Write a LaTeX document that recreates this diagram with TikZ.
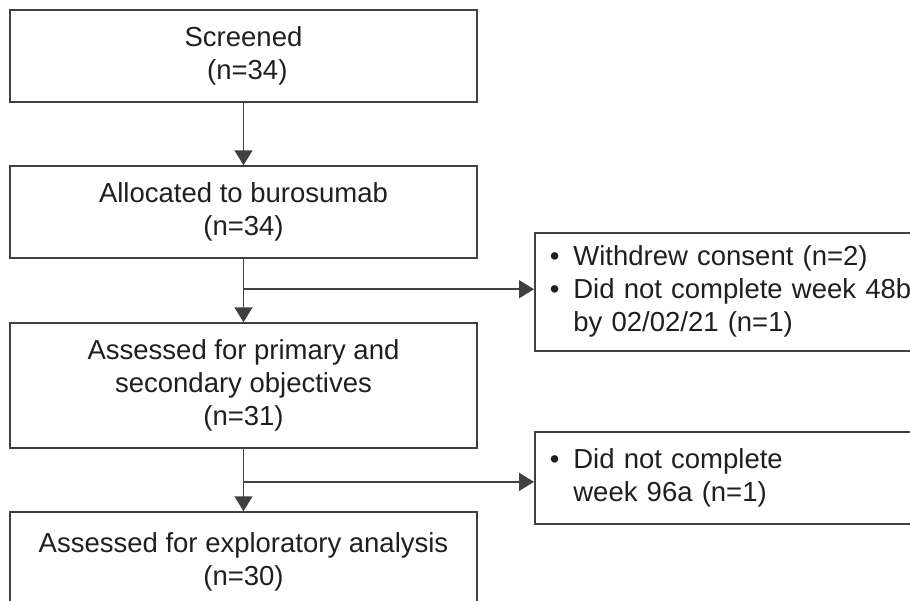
\documentclass[tikz,border=0pt]{standalone}
\usepackage{fontspec}
\setmainfont{Liberation Sans}
\usetikzlibrary{arrows.meta,calc}

\tikzset{
  flowbox/.style={draw=black!75,line width=0.75pt,text=black!88,align=center,
    minimum width=233.5pt,inner sep=0pt,font=\fontsize{13.75}{16.5}\selectfont},
  sidebox/.style={draw=black!75,line width=0.75pt,text=black!88,anchor=west,
    text width=199pt,align=left,inner xsep=7.5pt,inner ysep=0pt,
    font=\fontsize{13.75}{16.5}\selectfont},
  flowarrow/.style={draw=black!75,line width=0.75pt,-{Triangle[width=9pt,length=7.5pt]}},
  flowline/.style={draw=black!75,line width=0.75pt}
}
\newcommand{\bulletlist}[1]{\begin{tabular}{@{}l@{\hspace{7pt}}l@{}}#1\end{tabular}}

\begin{document}
\begin{tikzpicture}[x=0.5pt,y=-0.5pt]
      \useasboundingbox (0,0) rectangle (910,600);
      \clip (0,0) rectangle (910,600);
      % main column
      \node[flowbox,minimum height=46pt] (screened) at (243.5,56) {Screened\\ \ (n=34)};
      \node[flowbox,minimum height=46pt] (allocated) at (243.5,212) {Allocated to burosumab\\(n=34)};
      \node[flowbox,minimum height=62.5pt] (primary) at (243.5,385.5) {Assessed for primary and\\secondary objectives\\(n=31)};
      \node[flowbox,minimum height=49.5pt] (explore) at (243.5,561.5) {Assessed for exploratory analysis\\(n=30)};
      % exclusions
      \node[sidebox,minimum height=59pt] (withdrawn) at (534,292)
        {\bulletlist{\textbullet & Withdrew consent (n=2)\\ \textbullet & Did not complete week 48b\\ & by 02/02/21 (n=1)}};
      \node[sidebox,minimum height=46pt] (notdone) at (534,478)
        {\bulletlist{\textbullet & Did not complete\\ & week 96a (n=1)}};
      % connectors
      \draw[flowarrow] (screened) -- (allocated);
      \draw[flowarrow] (allocated) -- (primary);
      \draw[flowarrow] (primary) -- (explore);
      \coordinate (split1) at ($(allocated.south)!0.48!(primary.north)$);
      \coordinate (split2) at ($(primary.south)!0.53!(explore.north)$);
      \draw[flowarrow] (split1) -- (split1 -| withdrawn.west);
      \draw[flowarrow] (split2) -- (split2 -| notdone.west);
    \end{tikzpicture}
\end{document}
